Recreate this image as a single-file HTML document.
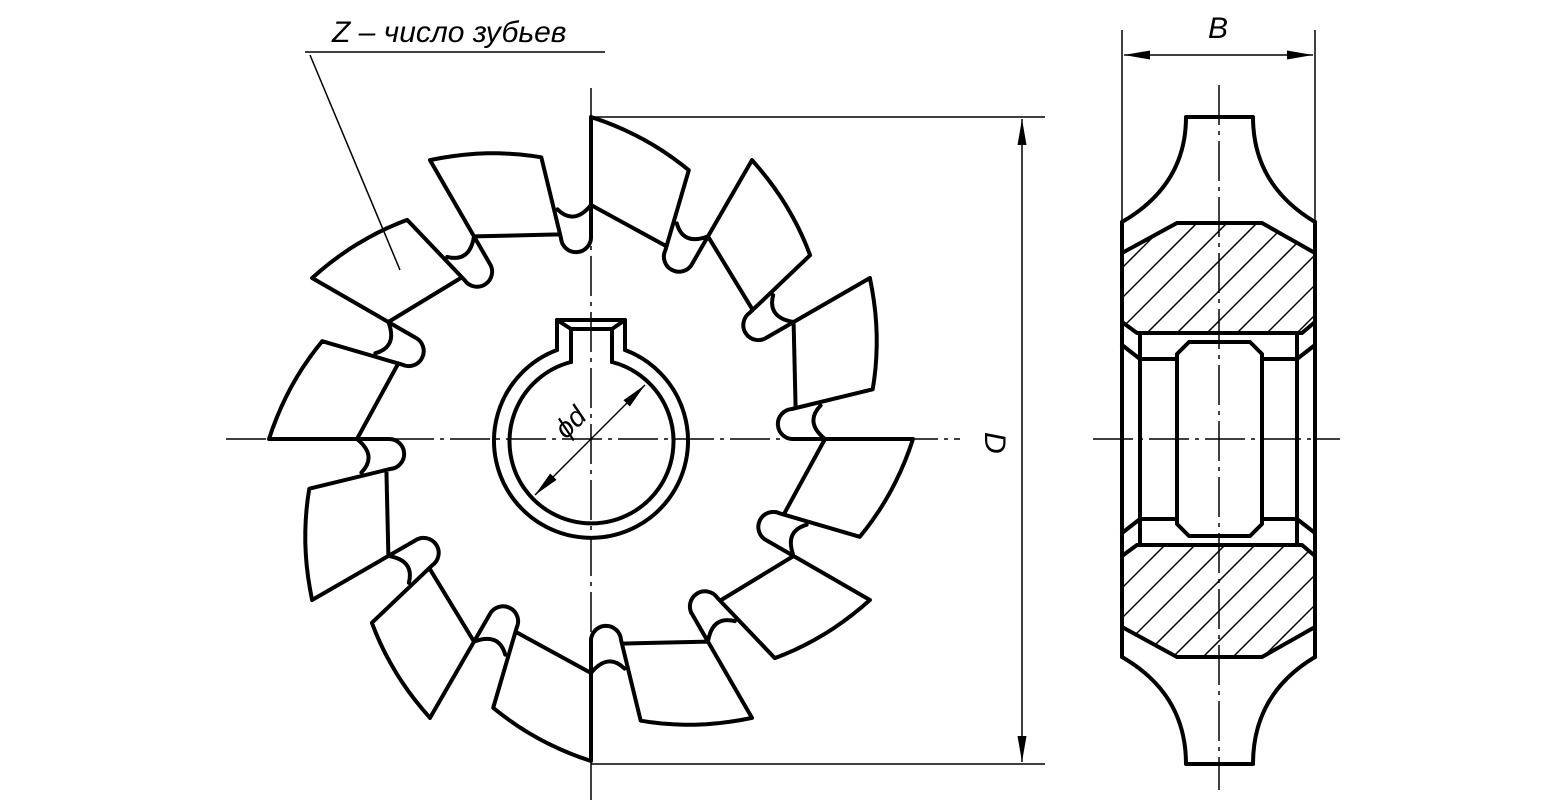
<!DOCTYPE html>
<html><head><meta charset="utf-8"><style>
html,body{margin:0;padding:0;background:#fff;width:1560px;height:804px;overflow:hidden}
svg{display:block}
text{font-family:"Liberation Sans","DejaVu Sans",sans-serif;font-style:italic;fill:#000}
</style></head><body>
<svg id="s" width="1560" height="804" viewBox="0 0 1560 804" xmlns="http://www.w3.org/2000/svg">
<defs>
<clipPath id="ht"><polygon points="1122,253 1177,223 1262,223 1315,253 1315,322 1302,333 1137,333 1122,322"/></clipPath>
<clipPath id="hb"><polygon points="1122,627 1177,657 1262,657 1315,627 1315,556 1302,545 1137,545 1122,556"/></clipPath>
<marker id="ar" viewBox="0 0 10 10" refX="10" refY="5" markerWidth="26" markerHeight="9" orient="auto-start-reverse" markerUnits="userSpaceOnUse" preserveAspectRatio="none"><path d="M0,0 L10,5 L0,10 z" fill="#000"/></marker>
</defs>
<g fill="none" stroke="#000" stroke-width="1.5">
<line x1="226" y1="439" x2="960" y2="439" stroke-dasharray="40,6,4,6"/>
<line x1="591" y1="88" x2="591" y2="800" stroke-dasharray="40,6,4,6"/>
<line x1="1093" y1="439" x2="1340" y2="439" stroke-dasharray="40,6,4,6"/>
<line x1="1219" y1="85" x2="1219" y2="790" stroke-dasharray="40,6,4,6"/>
<line x1="591" y1="117" x2="1045" y2="117"/>
<line x1="591" y1="764" x2="1045" y2="764"/>
<line x1="1022" y1="119" x2="1022" y2="762" marker-start="url(#ar)" marker-end="url(#ar)"/>
<line x1="1122" y1="30" x2="1122" y2="222"/>
<line x1="1315" y1="30" x2="1315" y2="222"/>
<line x1="1124" y1="55" x2="1313" y2="55" marker-start="url(#ar)" marker-end="url(#ar)"/>
<line x1="305" y1="52" x2="605" y2="52"/>
<line x1="310" y1="55" x2="400" y2="270"/>
<line x1="535" y1="495" x2="645" y2="385" marker-start="url(#ar)" marker-end="url(#ar)"/>
<g id="hatch" clip-path="url(#ht)"></g>
<g id="hatch2" clip-path="url(#hb)"></g>
</g>
<text x="332" y="42" font-size="30">Z – число зубьев</text>
<text x="1208" y="38" font-size="30">B</text>
<text x="0" y="0" font-size="30" transform="translate(985,432) rotate(90)">D</text>
<text x="0" y="0" font-size="28" transform="translate(566,440) rotate(-45)">ϕd</text>
<g id="main" fill="none" stroke="#000" stroke-width="4" stroke-linejoin="round" stroke-linecap="round">
<path d="M557,350 A97,97 0 1 0 625,350"/>
<path d="M571,362 A82,82 0 1 0 612,362"/>
<polyline points="557,350 557,320 625,320 625,350"/>
<polyline points="571,362 571,329 612,329 612,362"/>
<line x1="557" y1="320" x2="571" y2="329"/><line x1="625" y1="320" x2="612" y2="329"/>
<path d="M1122,222 Q1186,185 1186,117 L1253,117 Q1253,185 1315,222"/>
<path d="M1122,657 Q1186,694 1186,764 L1253,764 Q1253,694 1315,657"/>
<line x1="1122" y1="222" x2="1122" y2="657"/>
<line x1="1315" y1="222" x2="1315" y2="657"/>
<polyline points="1122,253 1177,223 1262,223 1315,253"/>
<polyline points="1122,627 1177,657 1262,657 1315,627"/>
<polyline points="1122,322 1137,333 1302,333 1315,322"/>
<polyline points="1122,556 1137,545 1302,545 1315,556"/>
<line x1="1140" y1="333" x2="1140" y2="545"/>
<line x1="1297" y1="333" x2="1297" y2="545"/>
<line x1="1122" y1="345" x2="1140" y2="359"/><line x1="1315" y1="345" x2="1297" y2="359"/>
<line x1="1122" y1="533" x2="1140" y2="519"/><line x1="1315" y1="533" x2="1297" y2="519"/>
<line x1="1140" y1="359" x2="1177" y2="359"/><line x1="1262" y1="359" x2="1297" y2="359"/>
<line x1="1140" y1="519" x2="1177" y2="519"/><line x1="1262" y1="519" x2="1297" y2="519"/>
<polygon points="1189,342 1250,342 1262,354 1262,524 1250,536 1189,536 1177,524 1177,354"/>
</g>
</svg>
<script>
(function(){
var NS="http://www.w3.org/2000/svg",cx=591,cy=439,g=document.getElementById('main');
function P(r,a){a=a*Math.PI/180;return [cx+r*Math.cos(a),cy-r*Math.sin(a)];}
function s(p){return p[0].toFixed(1)+","+p[1].toFixed(1);}
var d="";
for(var k=0;k<12;k++){
 var t=90-30*k;
 d+="M"+s(P(322,t))+"L"+s(P(203,t));
 d+="M"+s(P(322,t));
 for(var i=1;i<=10;i++){var f=i/10;d+="L"+s(P(322-36*f,t-20*f));}
 d+="L"+s(P(203,t-21.5));
 var a=P(203,t-21.5),b=P(203,t-30);
 var rr=Math.hypot(a[0]-b[0],a[1]-b[1])/2;
 d+="A"+rr.toFixed(1)+","+rr.toFixed(1)+" 0 0 0 "+s(b);
 d+="M"+s(P(234,t))+"L"+s(P(207,t-21.3));
 var c=P(214,t-25.5);
 d+="M"+s(P(232,t-21.7))+"Q"+s(c)+" "+s(P(234,t-30));
}
var p=document.createElementNS(NS,'path');p.setAttribute('d',d);g.appendChild(p);
function hatch(id,y0,y1){var h=document.getElementById(id);
 for(var x=1000;x<1500;x+=30){var l=document.createElementNS(NS,'line');
 l.setAttribute('x1',x);l.setAttribute('y1',y1);l.setAttribute('x2',x+(y1-y0));l.setAttribute('y2',y0);h.appendChild(l);}}
hatch('hatch',200,360);hatch('hatch2',520,680);
})();
</script>
</body></html>
